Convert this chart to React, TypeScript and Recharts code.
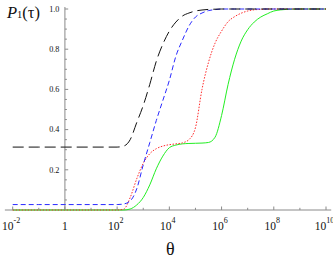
import React from 'react';
import { LineChart, Line, XAxis, YAxis, ReferenceLine } from 'recharts';

// log10(theta) sample positions
const logTheta = [-2, -1, 0, 1, 2, 2.25, 2.5, 2.75, 3, 3.25, 3.5, 3.75, 4, 4.25, 4.5, 4.75, 5, 5.25, 5.5, 5.75, 6, 6.25, 6.5, 6.75, 7, 7.25, 7.5, 7.75, 8, 8.5, 9, 10];

const blackSeries = [0.313, 0.313, 0.313, 0.313, 0.313, 0.318, 0.35, 0.435, 0.52, 0.625, 0.74, 0.825, 0.89, 0.935, 0.965, 0.98, 0.99, 0.995, 0.998, 0.999, 1, 1, 1, 1, 1, 1, 1, 1, 1, 1, 1, 1];
const blueSeries = [0.027, 0.027, 0.027, 0.027, 0.027, 0.03, 0.045, 0.105, 0.225, 0.335, 0.445, 0.545, 0.645, 0.765, 0.845, 0.915, 0.96, 0.98, 0.992, 0.997, 1, 1, 1, 1, 1, 1, 1, 1, 1, 1, 1, 1];
const redSeries = [0, 0, 0, 0, 0, 0.004, 0.062, 0.155, 0.232, 0.28, 0.305, 0.318, 0.325, 0.329, 0.334, 0.35, 0.41, 0.6, 0.735, 0.83, 0.89, 0.937, 0.962, 0.979, 0.99, 0.996, 0.998, 1, 1, 1, 1, 1];
const greenSeries = [0, 0, 0, 0, 0, 0, 0.005, 0.025, 0.062, 0.125, 0.205, 0.268, 0.31, 0.323, 0.329, 0.331, 0.332, 0.333, 0.336, 0.362, 0.47, 0.625, 0.75, 0.84, 0.897, 0.935, 0.96, 0.976, 0.99, 0.998, 1, 1];

const xTicks = [-2, -1, 0, 1, 2, 3, 4, 5, 6, 7, 8, 9, 10];
const yTicks = [0.05, 0.1, 0.15, 0.2, 0.25, 0.3, 0.35, 0.4, 0.45, 0.5, 0.55, 0.6, 0.65, 0.7, 0.75, 0.8, 0.85, 0.9, 0.95, 1.0];
const yLabels = ['0.2', '0.4', '0.6', '0.8', '1.0'];

const data = logTheta.map((x, i) => ({
  x,
  black: blackSeries[i],
  blue: blueSeries[i],
  red: redSeries[i],
  green: greenSeries[i],
}));

const AXIS = '#8a8a8a';
const serif: React.CSSProperties = { fontFamily: "'Liberation Serif', 'DejaVu Serif', serif" };

const XTick = (props: any) => {
  const { x, y, payload } = props;
  const v = payload.value as number;
  const major = Math.abs(v % 2) === 0;
  return (
    <g>
      <line x1={x} x2={x} y1={y} y2={y - (major ? 3.5 : 2.2)} stroke={AXIS} strokeWidth={1} />
      {major &&
        (v === 0 ? (
          <text x={x} y={y + 19.5} textAnchor="middle" style={serif} fontSize={11.5} fill="#111">
            1
          </text>
        ) : (
          <text x={x} dx={-1.5} y={y + 19.5} textAnchor="middle" style={serif} fontSize={11.5} fill="#111">
            <tspan>10</tspan>
            <tspan dy={-6.5} fontSize={8}>{String(v)}</tspan>
          </text>
        ))}
    </g>
  );
};

const yTickContent = (value: number) => (props: any) => {
  const { viewBox } = props;
  const x = viewBox.x;
  const y = viewBox.y;
  const label = yLabels.find((l) => Math.abs(parseFloat(l) - value) < 1e-6);
  return (
    <g>
      <line x1={x} x2={x + (label ? 3.3 : 2)} y1={y} y2={y} stroke={AXIS} strokeWidth={1} />
      {label && (
        <text x={x - 5.5} y={y + 2.8} textAnchor="end" style={serif} fontSize={8.2} fill="#111">
          {label}
        </text>
      )}
    </g>
  );
};

const titleContent = (props: any) => {
  const { viewBox } = props;
  return (
    <text x={viewBox.x - 58} y={viewBox.y + 11} style={serif} fontSize={16.5} fill="#111">
      <tspan fontStyle="italic">P</tspan>
      <tspan fontSize={10.5} dy={0.5}>1</tspan>
      <tspan dy={-0.5}>(τ)</tspan>
    </text>
  );
};

const thetaContent = (props: any) => {
  const { viewBox } = props;
  return (
    <text x={viewBox.x + viewBox.width / 2 + 1} y={viewBox.y + 45} textAnchor="middle" style={serif} fontSize={18} fill="#111">
      θ
    </text>
  );
};

export default function App() {
  return (
    <div style={{ position: 'absolute', left: 0, top: 0, width: 333, height: 258, background: '#fff' }}>
      <LineChart width={333} height={258} data={data} margin={{ top: 9, right: 7, left: 12.7, bottom: 18 }}>
        <XAxis
          dataKey="x"
          type="number"
          domain={[-2, 10]}
          ticks={xTicks}
          interval={0}
          axisLine={false}
          tickLine={false}
          tickSize={0}
          tickMargin={0}
          height={30}
          tick={<XTick />}
          label={{ content: thetaContent }}
        />
        <YAxis hide type="number" domain={[0, 1]} />
        <ReferenceLine
          segment={[{ x: -2.3, y: 0 }, { x: 10.2, y: 0 }]}
          stroke={AXIS}
          strokeWidth={1}
          ifOverflow="visible"
        />
        <ReferenceLine
          segment={[{ x: 0, y: 0 }, { x: 0, y: 1.01 }]}
          stroke={AXIS}
          strokeWidth={1}
          ifOverflow="visible"
          label={{ content: titleContent }}
        />
        {yTicks.map((v) => (
          <ReferenceLine
            key={v}
            segment={[{ x: 0, y: v }, { x: 0, y: v }]}
            stroke="none"
            ifOverflow="visible"
            label={{ content: yTickContent(v) }}
          />
        ))}
        <Line dataKey="green" type="monotone" stroke="#22ee22" strokeWidth={1} dot={false} isAnimationActive={false} />
        <Line dataKey="red" type="monotone" stroke="#ff2a2a" strokeWidth={1} strokeDasharray="1.5 1.5" dot={false} isAnimationActive={false} />
        <Line dataKey="blue" type="monotone" stroke="#2a2aff" strokeWidth={1} strokeDasharray="5 3" dot={false} isAnimationActive={false} />
        <Line dataKey="black" type="monotone" stroke="#111" strokeWidth={1} strokeDasharray="11 5" dot={false} isAnimationActive={false} />
      </LineChart>
    </div>
  );
}
